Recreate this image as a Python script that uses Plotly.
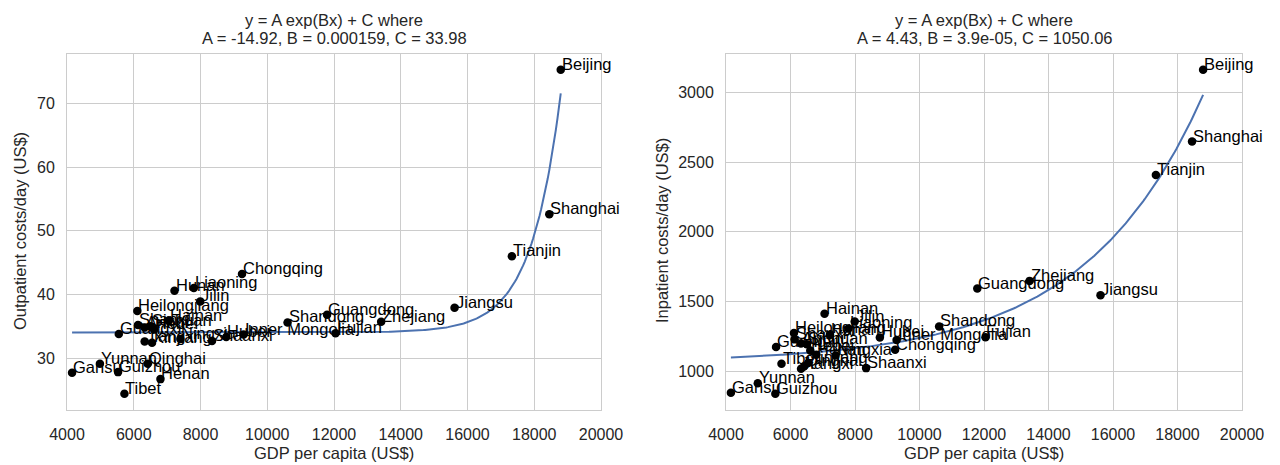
import numpy as np
import plotly.graph_objects as go

provinces = ["Beijing", "Tianjin", "Hebei", "Shanxi", "Inner Mongolia", "Liaoning", "Jilin",
             "Heilongjiang", "Shanghai", "Jiangsu", "Zhejiang", "Anhui", "Fujian", "Jiangxi",
             "Shandong", "Henan", "Hubei", "Hunan", "Guangdong", "Guangxi", "Hainan",
             "Chongqing", "Sichuan", "Guizhou", "Yunnan", "Tibet", "Shaanxi", "Gansu",
             "Qinghai", "Ningxia", "Xinjiang"]

gdp_per_capita = [18794, 17330, 6613, 6128, 9290, 7799, 7990,
                  6107, 18451, 15612, 13413, 6324, 12046, 6327,
                  10608, 6800, 8771, 7221, 11792, 5552, 7056,
                  9244, 6506, 5530, 4986, 5721, 8344, 4152,
                  6418, 7397, 6548]

outpatient = [75.3, 46.0, 34.5, 35.2, 33.7, 41.0, 38.9,
              37.4, 52.6, 37.9, 35.7, 34.8, 33.9, 32.6,
              35.6, 26.7, 33.3, 40.6, 36.8, 33.8, 35.9,
              43.2, 35.0, 27.8, 29.1, 24.4, 32.7, 27.7,
              29.1, 33.0, 32.4]

inpatient = [3162, 2408, 1150, 1230, 1225, 1308, 1358,
             1275, 2647, 1546, 1649, 1200, 1246, 1020,
             1323, 1120, 1244, 1262, 1594, 1175, 1414,
             1156, 1195, 840, 916, 1055, 1024, 847,
             1036, 1115, 1060]

title_left = ["y = A exp(Bx) + C where", "A = -14.92, B = 0.000159, C = 33.98"]
title_right = ["y = A exp(Bx) + C where", "A = 4.43, B = 3.9e-05, C = 1050.06"]
x_label = "GDP per capita (US$)"
y_label_left = "Outpatient costs/day (US$)"
y_label_right = "Inpatient costs/day (US$)"


def fit_exp(x, y):
    x = np.asarray(x, float)
    y = np.asarray(y, float)
    x0 = x.max()
    best = None
    for B in np.geomspace(1e-6, 3e-3, 6000):
        e = np.exp(B * (x - x0))
        M = np.column_stack([e, np.ones_like(e)])
        coef, *_ = np.linalg.lstsq(M, y, rcond=None)
        sse = float(((M @ coef - y) ** 2).sum())
        if best is None or sse < best[0]:
            best = (sse, B, coef)
    _, B, coef = best
    xs = np.linspace(x.min(), x.max(), 300)
    ys = coef[0] * np.exp(B * (xs - x0)) + coef[1]
    return xs, ys


FONT = "Liberation Sans, Arial, sans-serif"
BLUE = "#4c72b0"
GRID = "#cccccc"

fig = go.Figure()

for i, vals in enumerate([outpatient, inpatient]):
    xa = "x" if i == 0 else "x2"
    ya = "y" if i == 0 else "y2"
    xs, ys = fit_exp(gdp_per_capita, vals)
    fig.add_trace(go.Scatter(x=xs, y=ys, mode="lines", line=dict(color=BLUE, width=2),
                             xaxis=xa, yaxis=ya, showlegend=False, hoverinfo="skip"))
    fig.add_trace(go.Scatter(x=gdp_per_capita, y=vals, mode="markers",
                             marker=dict(color="black", size=8.5, line=dict(width=0)),
                             text=provinces, xaxis=xa, yaxis=ya, showlegend=False))
    for name, gx, v in zip(provinces, gdp_per_capita, vals):
        fig.add_annotation(x=gx, y=v, xref=xa, yref=ya, text=name, showarrow=False,
                           xanchor="left", yanchor="bottom", xshift=-1, yshift=-5,
                           font=dict(family=FONT, size=16.5, color="black"))

ydom = [1 - 410 / 465, 1 - 53.5 / 465]
axis_common = dict(showgrid=True, gridcolor=GRID, gridwidth=1, showline=True, mirror=True,
                   linecolor=GRID, linewidth=1, zeroline=False, ticks="", automargin=False,
                   tickfont=dict(family=FONT, size=16, color="#262626"))

fig.update_layout(
    width=1280, height=465,
    margin=dict(l=0, r=0, t=0, b=0, autoexpand=False),
    paper_bgcolor="white", plot_bgcolor="white",
    font=dict(family=FONT, color="#262626"),
    xaxis=dict(domain=[67 / 1280, 601 / 1280], range=[4000, 20000], dtick=2000,
               tickformat="d", anchor="y", ticklabelstandoff=10, **axis_common),
    yaxis=dict(domain=ydom, range=[21.85, 77.85], dtick=10, anchor="x",
               ticklabelstandoff=8, **axis_common),
    xaxis2=dict(domain=[726 / 1280, 1242 / 1280], range=[4000, 20000], dtick=2000,
                tickformat="d", anchor="y2", ticklabelstandoff=10, **axis_common),
    yaxis2=dict(domain=ydom, range=[724, 3278], dtick=500, tickformat="d", anchor="x2",
                ticklabelstandoff=8, **axis_common),
)

tfont = dict(family=FONT, size=16.5, color="#262626")
for cx, lines in [(334 / 1280, title_left), (984 / 1280, title_right)]:
    fig.add_annotation(x=cx, y=1 - 20 / 465, xref="paper", yref="paper", text=lines[0],
                       showarrow=False, xanchor="center", yanchor="middle", font=tfont)
    fig.add_annotation(x=cx, y=1 - 38 / 465, xref="paper", yref="paper", text=lines[1],
                       showarrow=False, xanchor="center", yanchor="middle", font=tfont)
    fig.add_annotation(x=cx, y=1 - 453 / 465, xref="paper", yref="paper", text=x_label,
                       showarrow=False, xanchor="center", yanchor="middle", font=tfont)

for cx, lab in [(20 / 1280, y_label_left), (662 / 1280, y_label_right)]:
    fig.add_annotation(x=cx, y=1 - 231 / 465, xref="paper", yref="paper", text=lab,
                       showarrow=False, xanchor="center", yanchor="middle", textangle=-90,
                       font=tfont)

fig.write_html("out.html", config={"displayModeBar": False},
               post_script="document.body.style.margin='0px';document.body.style.overflow='hidden';")
